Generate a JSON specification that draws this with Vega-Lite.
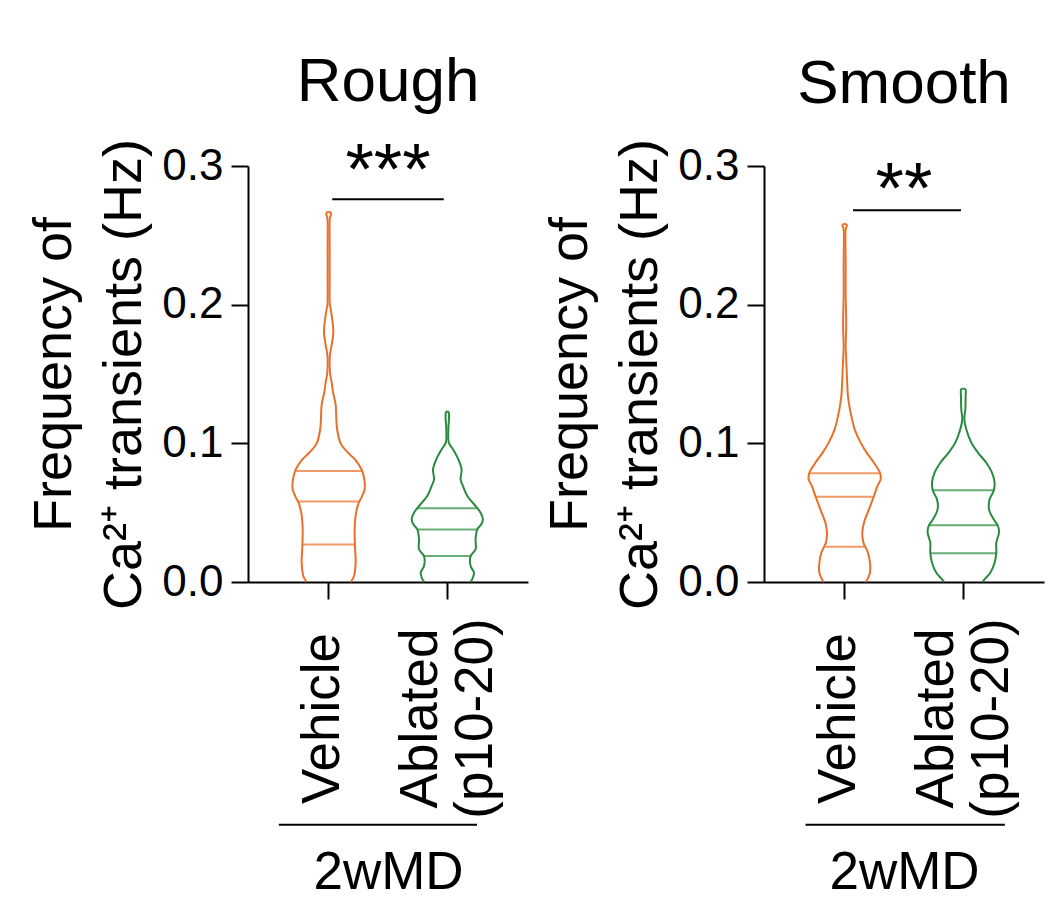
{
  "$schema": "https://vega.github.io/schema/vega-lite/v6.json",
  "padding": {"left": 27, "top": 50, "right": 5, "bottom": 5},
  "spacing": 15,
  "config": {
    "font": "Liberation Sans",
    "view": {"stroke": null},
    "axis": {"domainColor": "#000000", "tickColor": "#000000", "labelColor": "#000000", "titleColor": "#000000", "domainWidth": 2, "tickWidth": 2, "grid": false},
    "title": {"color": "#000000"}
  },
  "datasets": {
    "outline": [
      {"panel": "Rough", "group": "Vehicle", "f": 0.267, "d": 0},
      {"panel": "Rough", "group": "Vehicle", "f": 0.266, "d": 0.064},
      {"panel": "Rough", "group": "Vehicle", "f": 0.262, "d": 0.033},
      {"panel": "Rough", "group": "Vehicle", "f": 0.24, "d": 0.028},
      {"panel": "Rough", "group": "Vehicle", "f": 0.22, "d": 0.028},
      {"panel": "Rough", "group": "Vehicle", "f": 0.2, "d": 0.033},
      {"panel": "Rough", "group": "Vehicle", "f": 0.197, "d": 0.056},
      {"panel": "Rough", "group": "Vehicle", "f": 0.187, "d": 0.111},
      {"panel": "Rough", "group": "Vehicle", "f": 0.18, "d": 0.13},
      {"panel": "Rough", "group": "Vehicle", "f": 0.173, "d": 0.097},
      {"panel": "Rough", "group": "Vehicle", "f": 0.165, "d": 0.042},
      {"panel": "Rough", "group": "Vehicle", "f": 0.161, "d": 0.028},
      {"panel": "Rough", "group": "Vehicle", "f": 0.15, "d": 0.042},
      {"panel": "Rough", "group": "Vehicle", "f": 0.144, "d": 0.083},
      {"panel": "Rough", "group": "Vehicle", "f": 0.137, "d": 0.12},
      {"panel": "Rough", "group": "Vehicle", "f": 0.128, "d": 0.194},
      {"panel": "Rough", "group": "Vehicle", "f": 0.117, "d": 0.214},
      {"panel": "Rough", "group": "Vehicle", "f": 0.11, "d": 0.236},
      {"panel": "Rough", "group": "Vehicle", "f": 0.1, "d": 0.333},
      {"panel": "Rough", "group": "Vehicle", "f": 0.093, "d": 0.547},
      {"panel": "Rough", "group": "Vehicle", "f": 0.0885, "d": 0.73},
      {"panel": "Rough", "group": "Vehicle", "f": 0.081, "d": 0.917},
      {"panel": "Rough", "group": "Vehicle", "f": 0.074, "d": 0.99},
      {"panel": "Rough", "group": "Vehicle", "f": 0.067, "d": 1.0},
      {"panel": "Rough", "group": "Vehicle", "f": 0.062, "d": 0.93},
      {"panel": "Rough", "group": "Vehicle", "f": 0.057, "d": 0.833},
      {"panel": "Rough", "group": "Vehicle", "f": 0.048, "d": 0.75},
      {"panel": "Rough", "group": "Vehicle", "f": 0.038, "d": 0.722},
      {"panel": "Rough", "group": "Vehicle", "f": 0.026, "d": 0.73},
      {"panel": "Rough", "group": "Vehicle", "f": 0.014, "d": 0.75},
      {"panel": "Rough", "group": "Vehicle", "f": 0.004, "d": 0.7},
      {"panel": "Rough", "group": "Vehicle", "f": 0, "d": 0.61},
      {"panel": "Rough", "group": "Ablated (p10-20)", "f": 0.1233, "d": 0},
      {"panel": "Rough", "group": "Ablated (p10-20)", "f": 0.122, "d": 0.042},
      {"panel": "Rough", "group": "Ablated (p10-20)", "f": 0.11, "d": 0.028},
      {"panel": "Rough", "group": "Ablated (p10-20)", "f": 0.1005, "d": 0.042},
      {"panel": "Rough", "group": "Ablated (p10-20)", "f": 0.0957, "d": 0.158},
      {"panel": "Rough", "group": "Ablated (p10-20)", "f": 0.0885, "d": 0.306},
      {"panel": "Rough", "group": "Ablated (p10-20)", "f": 0.0812, "d": 0.397},
      {"panel": "Rough", "group": "Ablated (p10-20)", "f": 0.074, "d": 0.369},
      {"panel": "Rough", "group": "Ablated (p10-20)", "f": 0.0692, "d": 0.436},
      {"panel": "Rough", "group": "Ablated (p10-20)", "f": 0.062, "d": 0.556},
      {"panel": "Rough", "group": "Ablated (p10-20)", "f": 0.0548, "d": 0.786},
      {"panel": "Rough", "group": "Ablated (p10-20)", "f": 0.05, "d": 0.925},
      {"panel": "Rough", "group": "Ablated (p10-20)", "f": 0.0452, "d": 0.99},
      {"panel": "Rough", "group": "Ablated (p10-20)", "f": 0.0416, "d": 0.944},
      {"panel": "Rough", "group": "Ablated (p10-20)", "f": 0.038, "d": 0.833},
      {"panel": "Rough", "group": "Ablated (p10-20)", "f": 0.0308, "d": 0.786},
      {"panel": "Rough", "group": "Ablated (p10-20)", "f": 0.0236, "d": 0.786},
      {"panel": "Rough", "group": "Ablated (p10-20)", "f": 0.0187, "d": 0.647},
      {"panel": "Rough", "group": "Ablated (p10-20)", "f": 0.0115, "d": 0.647},
      {"panel": "Rough", "group": "Ablated (p10-20)", "f": 0.0067, "d": 0.74},
      {"panel": "Rough", "group": "Ablated (p10-20)", "f": 0.0019, "d": 0.69},
      {"panel": "Rough", "group": "Ablated (p10-20)", "f": 0, "d": 0.64},
      {"panel": "Smooth", "group": "Vehicle", "f": 0.2584, "d": 0},
      {"panel": "Smooth", "group": "Vehicle", "f": 0.2575, "d": 0.06},
      {"panel": "Smooth", "group": "Vehicle", "f": 0.2543, "d": 0.028},
      {"panel": "Smooth", "group": "Vehicle", "f": 0.2302, "d": 0.028},
      {"panel": "Smooth", "group": "Vehicle", "f": 0.2062, "d": 0.028},
      {"panel": "Smooth", "group": "Vehicle", "f": 0.19, "d": 0.042},
      {"panel": "Smooth", "group": "Vehicle", "f": 0.1822, "d": 0.042},
      {"panel": "Smooth", "group": "Vehicle", "f": 0.17, "d": 0.028},
      {"panel": "Smooth", "group": "Vehicle", "f": 0.1581, "d": 0.047},
      {"panel": "Smooth", "group": "Vehicle", "f": 0.1341, "d": 0.092},
      {"panel": "Smooth", "group": "Vehicle", "f": 0.1245, "d": 0.147},
      {"panel": "Smooth", "group": "Vehicle", "f": 0.1197, "d": 0.186},
      {"panel": "Smooth", "group": "Vehicle", "f": 0.1101, "d": 0.278},
      {"panel": "Smooth", "group": "Vehicle", "f": 0.1005, "d": 0.444},
      {"panel": "Smooth", "group": "Vehicle", "f": 0.0933, "d": 0.611},
      {"panel": "Smooth", "group": "Vehicle", "f": 0.086, "d": 0.814},
      {"panel": "Smooth", "group": "Vehicle", "f": 0.0788, "d": 0.98},
      {"panel": "Smooth", "group": "Vehicle", "f": 0.074, "d": 1.0},
      {"panel": "Smooth", "group": "Vehicle", "f": 0.0692, "d": 0.908},
      {"panel": "Smooth", "group": "Vehicle", "f": 0.062, "d": 0.814},
      {"panel": "Smooth", "group": "Vehicle", "f": 0.0524, "d": 0.675},
      {"panel": "Smooth", "group": "Vehicle", "f": 0.0428, "d": 0.536},
      {"panel": "Smooth", "group": "Vehicle", "f": 0.0356, "d": 0.49},
      {"panel": "Smooth", "group": "Vehicle", "f": 0.0284, "d": 0.52},
      {"panel": "Smooth", "group": "Vehicle", "f": 0.0212, "d": 0.647},
      {"panel": "Smooth", "group": "Vehicle", "f": 0.0139, "d": 0.703},
      {"panel": "Smooth", "group": "Vehicle", "f": 0.0067, "d": 0.703},
      {"panel": "Smooth", "group": "Vehicle", "f": 0.0019, "d": 0.63},
      {"panel": "Smooth", "group": "Vehicle", "f": 0, "d": 0.58},
      {"panel": "Smooth", "group": "Ablated (p10-20)", "f": 0.1394, "d": 0},
      {"panel": "Smooth", "group": "Ablated (p10-20)", "f": 0.139, "d": 0.06},
      {"panel": "Smooth", "group": "Ablated (p10-20)", "f": 0.1341, "d": 0.064},
      {"panel": "Smooth", "group": "Ablated (p10-20)", "f": 0.1245, "d": 0.056},
      {"panel": "Smooth", "group": "Ablated (p10-20)", "f": 0.1173, "d": 0.028},
      {"panel": "Smooth", "group": "Ablated (p10-20)", "f": 0.1101, "d": 0.083},
      {"panel": "Smooth", "group": "Ablated (p10-20)", "f": 0.1005, "d": 0.222},
      {"panel": "Smooth", "group": "Ablated (p10-20)", "f": 0.0933, "d": 0.408},
      {"panel": "Smooth", "group": "Ablated (p10-20)", "f": 0.086, "d": 0.639},
      {"panel": "Smooth", "group": "Ablated (p10-20)", "f": 0.0788, "d": 0.797},
      {"panel": "Smooth", "group": "Ablated (p10-20)", "f": 0.0716, "d": 0.869},
      {"panel": "Smooth", "group": "Ablated (p10-20)", "f": 0.0656, "d": 0.842},
      {"panel": "Smooth", "group": "Ablated (p10-20)", "f": 0.0596, "d": 0.731},
      {"panel": "Smooth", "group": "Ablated (p10-20)", "f": 0.0524, "d": 0.714},
      {"panel": "Smooth", "group": "Ablated (p10-20)", "f": 0.0452, "d": 0.842},
      {"panel": "Smooth", "group": "Ablated (p10-20)", "f": 0.0404, "d": 0.964},
      {"panel": "Smooth", "group": "Ablated (p10-20)", "f": 0.0356, "d": 0.99},
      {"panel": "Smooth", "group": "Ablated (p10-20)", "f": 0.0284, "d": 0.917},
      {"panel": "Smooth", "group": "Ablated (p10-20)", "f": 0.0212, "d": 0.917},
      {"panel": "Smooth", "group": "Ablated (p10-20)", "f": 0.0139, "d": 0.869},
      {"panel": "Smooth", "group": "Ablated (p10-20)", "f": 0.0067, "d": 0.75},
      {"panel": "Smooth", "group": "Ablated (p10-20)", "f": 0.0019, "d": 0.59},
      {"panel": "Smooth", "group": "Ablated (p10-20)", "f": 0, "d": 0.53}
    ],
    "quartiles": [
      {"panel": "Rough", "group": "Vehicle", "f": 0.080, "d": 0.93},
      {"panel": "Rough", "group": "Vehicle", "f": 0.058, "d": 0.84},
      {"panel": "Rough", "group": "Vehicle", "f": 0.027, "d": 0.72},
      {"panel": "Rough", "group": "Ablated (p10-20)", "f": 0.0531, "d": 0.84},
      {"panel": "Rough", "group": "Ablated (p10-20)", "f": 0.0378, "d": 0.84},
      {"panel": "Rough", "group": "Ablated (p10-20)", "f": 0.0187, "d": 0.66},
      {"panel": "Smooth", "group": "Vehicle", "f": 0.0784, "d": 0.97},
      {"panel": "Smooth", "group": "Vehicle", "f": 0.0615, "d": 0.82},
      {"panel": "Smooth", "group": "Vehicle", "f": 0.0255, "d": 0.54},
      {"panel": "Smooth", "group": "Ablated (p10-20)", "f": 0.0661, "d": 0.86},
      {"panel": "Smooth", "group": "Ablated (p10-20)", "f": 0.0409, "d": 0.96},
      {"panel": "Smooth", "group": "Ablated (p10-20)", "f": 0.0207, "d": 0.92}
    ],
    "annot": [
      {"panel": "Rough", "group": "Vehicle", "group2": "Ablated (p10-20)", "f": 0.276, "fstar": 0.280, "stars": "***", "fbracket": -0.175},
      {"panel": "Smooth", "group": "Vehicle", "group2": "Ablated (p10-20)", "f": 0.268, "fstar": 0.2662, "stars": "**", "fbracket": -0.175}
    ]
  },
  "hconcat": [
    {
      "width": 280,
      "height": 416,
      "title": {"text": "Rough", "fontSize": 62, "fontWeight": "normal", "anchor": "middle", "frame": "group", "offset": 22},
      "encoding": {
        "x": {"field": "group", "type": "nominal", "title": "2wMD",
          "scale": {"type": "band", "domain": ["Vehicle", "Ablated (p10-20)"], "paddingInner": 0, "paddingOuter": 0.18},
          "axis": {"tickSize": 17, "labelAngle": 270, "labelAlign": "center", "labelBaseline": "middle", "labelFontSize": 53, "labelPadding": 119, "labelLineHeight": 55, "labelOverlap": false, "labelBound": false, "labelLimit": 0,
            "labelOffset": {"condition": {"test": "datum.value == 'Vehicle'", "value": -6}, "value": -26},
            "labelExpr": "datum.value == 'Vehicle' ? 'Vehicle' : ['Ablated', '(p10-20)']",
            "titleFontSize": 53, "titleFontWeight": "normal", "titlePadding": 64}},
        "y": {"field": "f", "type": "quantitative",
          "scale": {"domain": [0, 0.3]},
          "title": ["Frequency of", "Ca²⁺ transients (Hz)"],
          "axis": {"values": [0, 0.1, 0.2, 0.3], "format": ".1f", "tickSize": 17, "labelFontSize": 44, "labelPadding": 8, "titleFontSize": 54, "titleFontWeight": "normal", "titleLineHeight": 70, "titlePadding": 10}}
      },
      "layer": [
        {
          "data": {"name": "outline"},
          "transform": [{"filter": "datum.panel == 'Rough'"}],
          "mark": {"type": "line", "interpolate": "catmull-rom", "strokeWidth": 2},
          "encoding": {
            "xOffset": {"field": "d", "type": "quantitative", "scale": {"domain": [0, 1], "range": [59.3, 23.3]}},
            "color": {"field": "group", "type": "nominal", "scale": {"domain": ["Vehicle", "Ablated (p10-20)"], "range": ["#E8702A", "#2A8A3E"]}, "legend": null},
            "order": {"field": "f", "type": "quantitative"}
          }
        },
        {
          "data": {"name": "outline"},
          "transform": [{"filter": "datum.panel == 'Rough'"}],
          "mark": {"type": "line", "interpolate": "catmull-rom", "strokeWidth": 2},
          "encoding": {
            "xOffset": {"field": "d", "type": "quantitative", "scale": {"domain": [0, 1], "range": [59.3, 95.3]}},
            "color": {"field": "group", "type": "nominal", "legend": null},
            "order": {"field": "f", "type": "quantitative"}
          }
        },
        {
          "data": {"name": "quartiles"},
          "transform": [{"filter": "datum.panel == 'Rough'"}],
          "mark": {"type": "tick", "orient": "horizontal", "thickness": 2},
          "encoding": {
            "size": {"field": "d", "type": "quantitative", "scale": {"domain": [0, 1], "range": [0, 72]}, "legend": null},
            "color": {"field": "group", "type": "nominal", "legend": null}
          }
        },
        {
          "data": {"name": "annot"},
          "transform": [{"filter": "datum.panel == 'Rough'"}],
          "mark": {"type": "rule", "color": "#000000", "strokeWidth": 2},
          "encoding": {
            "x": {"field": "group", "type": "nominal", "bandPosition": 0.53, "title": "2wMD"},
            "x2": {"field": "group2", "bandPosition": 0.47}
          }
        },
        {
          "data": {"name": "annot"},
          "transform": [{"filter": "datum.panel == 'Rough'"}],
          "mark": {"type": "text", "fontSize": 73, "baseline": "alphabetic", "align": "center", "color": "#000000"},
          "encoding": {
            "x": {"field": "group", "type": "nominal", "bandPosition": 1, "title": "2wMD"},
            "y": {"field": "fstar", "type": "quantitative"},
            "text": {"field": "stars"}
          }
        },
        {
          "data": {"name": "annot"},
          "transform": [{"filter": "datum.panel == 'Rough'"}],
          "mark": {"type": "rule", "color": "#000000", "strokeWidth": 2},
          "encoding": {
            "x": {"field": "group", "type": "nominal", "bandPosition": 0.08, "title": "2wMD"},
            "x2": {"field": "group2", "bandPosition": 0.75},
            "y": {"field": "fbracket", "type": "quantitative"}
          }
        }
      ],
      "resolve": {"scale": {"xOffset": "independent"}}
    },
    {
      "width": 280,
      "height": 416,
      "title": {"text": "Smooth", "fontSize": 62, "fontWeight": "normal", "anchor": "middle", "frame": "group", "offset": 22},
      "encoding": {
        "x": {"field": "group", "type": "nominal", "title": "2wMD",
          "scale": {"type": "band", "domain": ["Vehicle", "Ablated (p10-20)"], "paddingInner": 0, "paddingOuter": 0.18},
          "axis": {"tickSize": 17, "labelAngle": 270, "labelAlign": "center", "labelBaseline": "middle", "labelFontSize": 53, "labelPadding": 119, "labelLineHeight": 55, "labelOverlap": false, "labelBound": false, "labelLimit": 0,
            "labelOffset": {"condition": {"test": "datum.value == 'Vehicle'", "value": -6}, "value": -26},
            "labelExpr": "datum.value == 'Vehicle' ? 'Vehicle' : ['Ablated', '(p10-20)']",
            "titleFontSize": 53, "titleFontWeight": "normal", "titlePadding": 64}},
        "y": {"field": "f", "type": "quantitative",
          "scale": {"domain": [0, 0.3]},
          "title": ["Frequency of", "Ca²⁺ transients (Hz)"],
          "axis": {"values": [0, 0.1, 0.2, 0.3], "format": ".1f", "tickSize": 17, "labelFontSize": 44, "labelPadding": 8, "titleFontSize": 54, "titleFontWeight": "normal", "titleLineHeight": 70, "titlePadding": 10}}
      },
      "layer": [
        {
          "data": {"name": "outline"},
          "transform": [{"filter": "datum.panel == 'Smooth'"}],
          "mark": {"type": "line", "interpolate": "catmull-rom", "strokeWidth": 2},
          "encoding": {
            "xOffset": {"field": "d", "type": "quantitative", "scale": {"domain": [0, 1], "range": [59.3, 23.3]}},
            "color": {"field": "group", "type": "nominal", "scale": {"domain": ["Vehicle", "Ablated (p10-20)"], "range": ["#E8702A", "#2A8A3E"]}, "legend": null},
            "order": {"field": "f", "type": "quantitative"}
          }
        },
        {
          "data": {"name": "outline"},
          "transform": [{"filter": "datum.panel == 'Smooth'"}],
          "mark": {"type": "line", "interpolate": "catmull-rom", "strokeWidth": 2},
          "encoding": {
            "xOffset": {"field": "d", "type": "quantitative", "scale": {"domain": [0, 1], "range": [59.3, 95.3]}},
            "color": {"field": "group", "type": "nominal", "legend": null},
            "order": {"field": "f", "type": "quantitative"}
          }
        },
        {
          "data": {"name": "quartiles"},
          "transform": [{"filter": "datum.panel == 'Smooth'"}],
          "mark": {"type": "tick", "orient": "horizontal", "thickness": 2},
          "encoding": {
            "size": {"field": "d", "type": "quantitative", "scale": {"domain": [0, 1], "range": [0, 72]}, "legend": null},
            "color": {"field": "group", "type": "nominal", "legend": null}
          }
        },
        {
          "data": {"name": "annot"},
          "transform": [{"filter": "datum.panel == 'Smooth'"}],
          "mark": {"type": "rule", "color": "#000000", "strokeWidth": 2},
          "encoding": {
            "x": {"field": "group", "type": "nominal", "bandPosition": 0.57, "title": "2wMD"},
            "x2": {"field": "group2", "bandPosition": 0.48}
          }
        },
        {
          "data": {"name": "annot"},
          "transform": [{"filter": "datum.panel == 'Smooth'"}],
          "mark": {"type": "text", "fontSize": 73, "baseline": "alphabetic", "align": "center", "color": "#000000"},
          "encoding": {
            "x": {"field": "group", "type": "nominal", "bandPosition": 1, "title": "2wMD"},
            "y": {"field": "fstar", "type": "quantitative"},
            "text": {"field": "stars"}
          }
        },
        {
          "data": {"name": "annot"},
          "transform": [{"filter": "datum.panel == 'Smooth'"}],
          "mark": {"type": "rule", "color": "#000000", "strokeWidth": 2},
          "encoding": {
            "x": {"field": "group", "type": "nominal", "bandPosition": 0.17, "title": "2wMD"},
            "x2": {"field": "group2", "bandPosition": 0.85},
            "y": {"field": "fbracket", "type": "quantitative"}
          }
        }
      ],
      "resolve": {"scale": {"xOffset": "independent"}}
    }
  ]
}
